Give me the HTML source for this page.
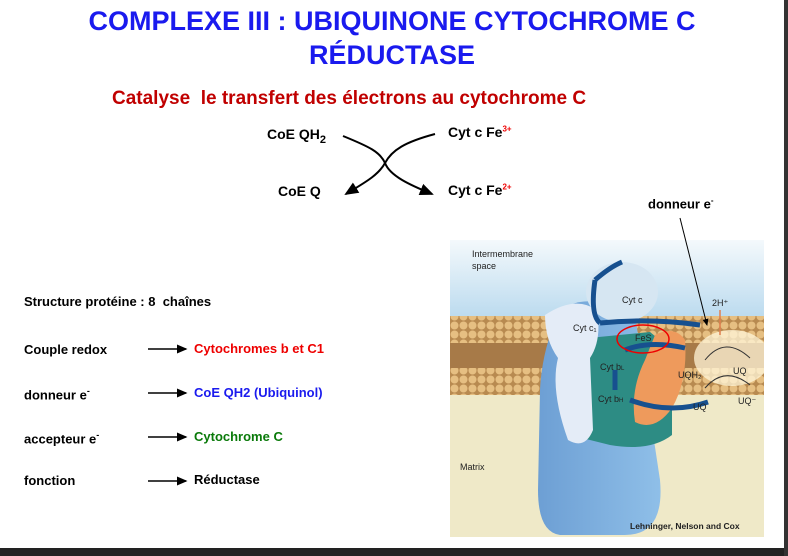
<!DOCTYPE html>
<html><head><meta charset="utf-8"><style>
body{margin:0;width:788px;height:556px;background:#fff;position:relative;overflow:hidden;font-family:"Liberation Sans",Arial,sans-serif;font-weight:bold}
.a{position:absolute;white-space:nowrap}
</style></head><body>
<div class="a" style="left:0;width:784px;top:4px;text-align:center;color:#1a1aee;font-size:27px;line-height:34px">COMPLEXE III : UBIQUINONE CYTOCHROME C<br>RÉDUCTASE</div>
<div class="a" style="left:112px;top:88px;color:#c00000;font-size:19px">Catalyse &nbsp;le transfert des électrons au cytochrome C</div>
<div class="a" style="left:267px;top:126px;font-size:14px">CoE QH<sub style="font-size:11px">2</sub></div>
<div class="a" style="left:278px;top:183px;font-size:14px">CoE Q</div>
<div class="a" style="left:448px;top:124px;font-size:14px">Cyt c Fe<sup style="font-size:8px;color:#e00">3+</sup></div>
<div class="a" style="left:448px;top:182px;font-size:14px">Cyt c Fe<sup style="font-size:8px;color:#e00">2+</sup></div>
<div class="a" style="left:648px;top:196px;font-size:13px">donneur e<sup style="font-size:8px">-</sup></div>
<div class="a" style="left:24px;top:294px;font-size:13px">Structure protéine : 8 &nbsp;chaînes</div>
<div class="a" style="left:24px;top:342px;font-size:13px">Couple redox</div>
<div class="a" style="left:194px;top:341px;font-size:13px;color:#e00">Cytochromes b et C1</div>
<div class="a" style="left:24px;top:386px;font-size:13px">donneur e<sup style="font-size:9px">-</sup></div>
<div class="a" style="left:194px;top:385px;font-size:13px;color:#1a1aee">CoE QH2 (Ubiquinol)</div>
<div class="a" style="left:24px;top:430px;font-size:13px">accepteur e<sup style="font-size:9px">-</sup></div>
<div class="a" style="left:194px;top:429px;font-size:13px;color:#0a7a0a">Cytochrome C</div>
<div class="a" style="left:24px;top:473px;font-size:13px">fonction</div>
<div class="a" style="left:194px;top:472px;font-size:13px">Réductase</div>
<svg class="a" style="left:450px;top:240px;font-weight:normal" width="314" height="297" font-family="Liberation Sans,Arial,sans-serif">
<defs><linearGradient id="s" x1="0" y1="0" x2="0" y2="1"><stop offset="0" stop-color="#f4f9fc"/><stop offset="1" stop-color="#b8d9ee"/></linearGradient>
<linearGradient id="b" x1="0" y1="0" x2="1" y2="0"><stop offset="0" stop-color="#6d9fd4"/><stop offset="1" stop-color="#8fbfe8"/></linearGradient>
<pattern id="bd" width="9" height="9" patternUnits="userSpaceOnUse"><rect width="9" height="9" fill="#b88a50"/><circle cx="4.5" cy="4.5" r="4" fill="#e6bf82"/></pattern></defs>
<rect width="314" height="82" fill="url(#s)"/>
<rect y="150" width="314" height="147" fill="#efe9c8"/>
<rect y="78" width="314" height="76" fill="#a77a48"/>
<rect y="76" width="314" height="27" fill="url(#bd)"/>
<rect y="128" width="314" height="27" fill="url(#bd)"/>
<path d="M108,75 Q120,58 150,62 L185,75 L210,240 Q215,295 175,295 L110,295 Q88,292 88,250 L90,150 Q92,110 108,75z" fill="url(#b)"/>
<path d="M118,100 L200,92 L222,110 L222,195 Q200,212 160,205 L120,195z" fill="#2d8c84"/>
<ellipse cx="172" cy="52" rx="36" ry="30" fill="#d6e6f2"/>
<path d="M95,75 Q125,55 147,70 Q152,100 140,118 L143,190 Q135,210 118,200 Q100,150 108,118 Q95,100 95,75z" fill="#e4ecf7"/>
<path d="M205,95 Q225,85 235,100 Q238,140 222,168 Q205,192 185,182 Q180,150 195,120z" fill="#ee9a5c"/>
<ellipse cx="282" cy="118" rx="38" ry="28" fill="#fff6d8" opacity=".75"/>
<g fill="none" stroke="#17508f" stroke-width="5"><path d="M145,40 Q140,75 150,83"/><path d="M145,40 Q160,27 172,22"/><path d="M250,85 Q200,78 150,83"/><path d="M235,108 Q200,100 175,110"/><path d="M180,160 Q220,175 258,162"/><path d="M165,130 v20"/></g>
<g fill="none" stroke="#333" stroke-width="1"><path d="M255,120 Q275,95 300,118"/><path d="M255,148 Q275,125 300,145"/></g>
<ellipse cx="193" cy="99" rx="26" ry="14" fill="none" stroke="#e00" stroke-width="1.5"/>
<g font-size="9" fill="#222"><text x="22" y="17">Intermembrane</text><text x="22" y="29">space</text>
<text x="172" y="63">Cyt c</text><text x="123" y="91">Cyt c₁</text><text x="185" y="101">FeS</text>
<text x="150" y="130">Cyt b<tspan font-size="6">L</tspan></text><text x="148" y="162">Cyt b<tspan font-size="6">H</tspan></text>
<text x="262" y="66">2H⁺</text><text x="228" y="138">UQH₂</text><text x="283" y="134">UQ</text><text x="243" y="170">UQ</text><text x="288" y="164">UQ⁻</text>
<text x="10" y="230">Matrix</text><text x="180" y="289" font-weight="bold" font-size="8.5">Lehninger, Nelson and Cox</text></g>
<line x1="270" y1="95" x2="270" y2="70" stroke="#e08050" stroke-width="1.5"/>
</svg>
<svg class="a" style="left:0;top:0" width="788" height="556">
<defs><marker id="m" markerWidth="8" markerHeight="8" refX="6" refY="4" orient="auto"><path d="M0,1 L7,4 L0,7z" fill="#000"/></marker></defs>
<path d="M343,136 C370,147 380,152 385,163 C390,176 410,185 432,194" fill="none" stroke="#000" stroke-width="2" marker-end="url(#m)"/>
<path d="M435,134 C405,142 392,150 385,163 C378,176 362,184 346,194" fill="none" stroke="#000" stroke-width="2" marker-end="url(#m)"/>
<line x1="680" y1="218" x2="707" y2="325" stroke="#000" stroke-width="1" marker-end="url(#m)"/>
<line x1="148" y1="349" x2="186" y2="349" stroke="#000" stroke-width="1.5" marker-end="url(#m)"/>
<line x1="148" y1="393" x2="186" y2="393" stroke="#000" stroke-width="1.5" marker-end="url(#m)"/>
<line x1="148" y1="437" x2="186" y2="437" stroke="#000" stroke-width="1.5" marker-end="url(#m)"/>
<line x1="148" y1="481" x2="186" y2="481" stroke="#000" stroke-width="1.5" marker-end="url(#m)"/>
</svg>
<div class="a" style="left:0;top:548px;width:788px;height:8px;background:#222"></div>
<div class="a" style="left:784px;top:0;width:4px;height:556px;background:#333"></div>
</body></html>
